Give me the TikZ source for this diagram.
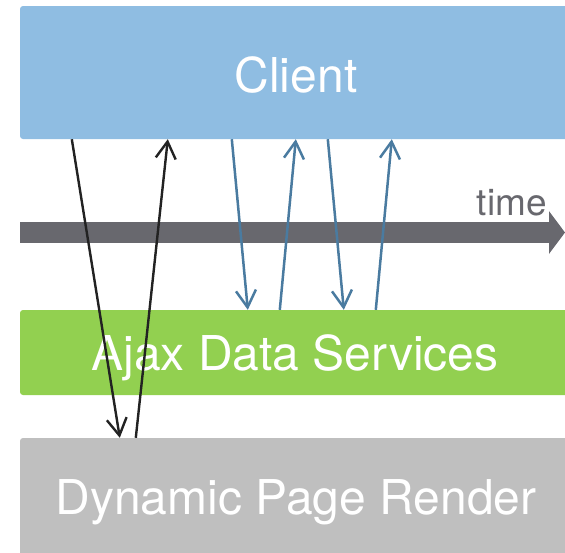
\documentclass[tikz,border=0pt]{standalone}
\usepackage{fontspec}
\setmainfont{TeX Gyre Heros}
\usetikzlibrary{arrows.meta}
\definecolor{clientblue}{HTML}{8FBDE2}
\definecolor{ajaxgreen}{HTML}{92D050}
\definecolor{rendergray}{HTML}{BFBFBF}
\definecolor{timegray}{HTML}{68686E}
\definecolor{callblue}{HTML}{4A7BA0}
\definecolor{pageblack}{HTML}{222222}

\begin{document}
\begin{tikzpicture}[x=1pt,y=-1pt,%
box/.style={rectangle,rounded corners=3pt,minimum width=555pt,inner sep=0pt},
title/.style={text=white,inner sep=0pt,text height=34pt,text depth=0pt,font=\fontsize{48}{54}\selectfont},
timeline/.style={line width=21pt,draw=timegray,-{Triangle[length=16pt,width=42pt]}},
pagecall/.style={line width=2.4pt,draw=pageblack,-{Straight Barb[length=17pt,width=20pt]}},
datacall/.style={line width=2.5pt,draw=callblue,-{Straight Barb[length=17pt,width=20pt]}}
]
\useasboundingbox (0,0) rectangle (565,552);
\clip (0,0) rectangle (565,552);
% layers
\node[style=box,fill=clientblue,minimum height=133pt] (client) at (297.5,72.5) {};
\node[style=box,fill=ajaxgreen,minimum height=85pt] (ajax) at (297.5,352.5) {};
\node[style=box,fill=rendergray,minimum height=122pt] (render) at (297.5,499) {};
\node[style=title] (client text) at (296,75) {Client};
\node[style=title] (ajax text) at (295,353) {Ajax Data Services};
\node[style=title] (render text) at (296,497) {Dynamic Page Render};
% time axis
\coordinate (time start) at (20,232.5);
\coordinate (time end) at (565,232.5);
\path[style=timeline] (time start) -- (time end);
\node[text=timegray,inner sep=0pt,anchor=base east,font=\fontsize{37}{42}\selectfont] (time) at (547,215) {time};
% full page request
\path[style=pagecall] ([xshift=52pt]client.south west) -- ([xshift=100pt]render.north west);
\path[style=pagecall] ([xshift=116pt]render.north west) -- ([xshift=148pt]client.south west);
% ajax calls
\path[style=datacall] ([xshift=212pt]client.south west) -- ([xshift=228pt]ajax.north west);
\path[style=datacall] ([xshift=260pt]ajax.north west) -- ([xshift=276pt]client.south west);
\path[style=datacall] ([xshift=308pt]client.south west) -- ([xshift=324pt]ajax.north west);
\path[style=datacall] ([xshift=356pt]ajax.north west) -- ([xshift=372pt]client.south west);
\end{tikzpicture}
\end{document}
